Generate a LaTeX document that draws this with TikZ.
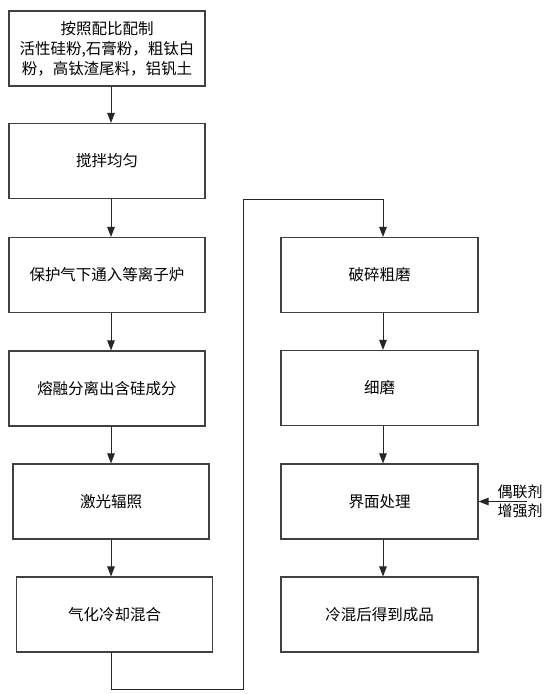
\documentclass[tikz,border=0pt]{standalone}
\usepackage{fontspec}
\newfontfamily\cjk{Noto Sans CJK SC}
\usetikzlibrary{arrows.meta}
\begin{document}
\begin{tikzpicture}[x=1pt,y=-1pt,
  box/.style={draw=black!75,line width=1.1pt,minimum width=196pt,minimum height=75pt,inner sep=0pt,align=center,font=\cjk\fontsize{15.5}{20}\selectfont},
  arr/.style={draw=black!85,line width=0.9pt,-{Triangle[length=10pt,width=7.5pt]}},
  lbl/.style={inner sep=0pt,font=\cjk\fontsize{15}{17}\selectfont}]
\useasboundingbox (0,0) rectangle (548,694);
\node[box] (b1) at (107,48.5) {按照配比配制\\活性硅粉,石膏粉，粗钛白\\粉，高钛渣尾料，铝钒土};
\node[box] (b2) at (107,161) {搅拌均匀};
\node[box] (b3) at (107,275) {保护气下通入等离子炉};
\node[box] (b4) at (107,388.5) {熔融分离出含硅成分};
\node[box] (b5) at (111,501.5) {激光辐照};
\node[box] (b6) at (114.5,614.5) {气化冷却混合};
\node[box,minimum width=197pt] (r1) at (379.5,275) {破碎粗磨};
\node[box,minimum width=197pt] (r2) at (379.5,388) {细磨};
\node[box,minimum width=197pt] (r3) at (379.5,501.5) {界面处理};
\node[box,minimum width=197pt] (r4) at (379.5,614.5) {冷混后得到成品};
\coordinate (cl) at (111,0);
\coordinate (cr) at (383,0);
\coordinate (p1) at (111,689);
\coordinate (p2) at (243,689);
\coordinate (p3) at (243,199);
\coordinate (p4) at (383,199);
\coordinate (s1) at (527,501.5);
\node[lbl] (t1) at (520,491.5) {偶联剂};
\node[lbl] (t2) at (520,511) {增强剂};
\draw[arr] (b1.south -| cl) -- (b2.north -| cl);
\draw[arr] (b2.south -| cl) -- (b3.north -| cl);
\draw[arr] (b3.south -| cl) -- (b4.north -| cl);
\draw[arr] (b4.south -| cl) -- (b5.north -| cl);
\draw[arr] (b5.south -| cl) -- (b6.north -| cl);
\draw[arr] (b6.south -| cl) -- (p1) -- (p2) -- (p3) -- (p4) -- (r1.north -| cr);
\draw[arr] (r1.south -| cr) -- (r2.north -| cr);
\draw[arr] (r2.south -| cr) -- (r3.north -| cr);
\draw[arr] (r3.south -| cr) -- (r4.north -| cr);
\draw[arr] (s1) -- (r3.east);
\end{tikzpicture}
\end{document}
